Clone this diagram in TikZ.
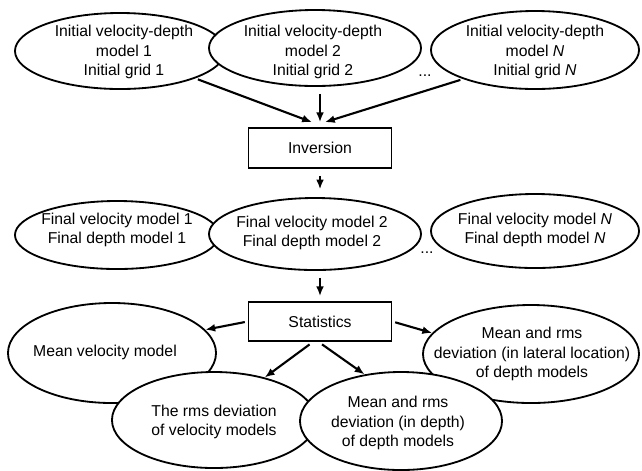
\documentclass[tikz,border=0pt]{standalone}
\usepackage{fontspec}
\setmainfont{Liberation Sans}
\usepackage{tikz}
\usetikzlibrary{shapes.geometric, arrows.meta, positioning, calc}

\begin{document}
\begin{tikzpicture}[x=0.025cm, y=-0.025cm,
    ell/.style={ellipse, draw, fill=white, line width=1.3pt, inner sep=0pt},
    txt/.style={align=center, inner sep=0pt, font=\fontsize{11.2}{13.8}\selectfont},
    proc/.style={rectangle, draw, fill=white, line width=1.3pt, minimum width=3.575cm, minimum height=1cm, font=\fontsize{11.2}{13.8}\selectfont},
    arr/.style={-{Latex[length=7pt, width=5.6pt]}, line width=1.5pt}]
    \useasboundingbox (0,0) rectangle (642,470);

    % Initial models
    \node[ell, minimum width=5.25cm, minimum height=1.9cm] (init1) at (120,51) {};
    \node[txt] (init1t) at (124,52) {Initial velocity-depth\\model 1\\Initial grid 1};
    \node[ell, minimum width=5.3cm, minimum height=1.9cm] (init2) at (315,48) {};
    \node[txt] (init2t) at (313,52) {Initial velocity-depth\\model 2\\Initial grid 2};
    \node[ell, minimum width=5.2cm, minimum height=1.95cm] (initN) at (535,50) {};
    \node[txt] (initNt) at (535,52) {Initial velocity-depth\\model \textit{N}\\Initial grid \textit{N}};
    \node[txt] (dotsA) at (425,76) {...};

    % Inversion
    \node[proc] (inv) at (320,148) {Inversion};

    % Final models
    \node[ell, minimum width=5.1cm, minimum height=1.7cm] (fin1) at (117,235) {};
    \node[txt] (fin1t) at (117,230) {Final velocity model 1\\Final depth model 1};
    \node[ell, minimum width=5.3cm, minimum height=1.8cm] (fin2) at (315,234) {};
    \node[txt] (fin2t) at (312,233) {Final velocity model 2\\Final depth model 2};
    \node[ell, minimum width=5.2cm, minimum height=1.85cm] (finN) at (535,231) {};
    \node[txt] (finNt) at (535,230) {Final velocity model \textit{N}\\Final depth model \textit{N}};
    \node[txt] (dotsB) at (427,253) {...};

    % Statistics
    \node[proc, minimum height=0.975cm] (stats) at (320,321.5) {Statistics};

    % Results
    \node[ell, minimum width=5.2cm, minimum height=2.5cm] (meanvel) at (112,353) {};
    \node[txt] (meanvelt) at (105,352) {Mean velocity model};
    \node[ell, minimum width=5.4cm, minimum height=2.45cm] (lateral) at (531,354) {};
    \node[txt] (lateralt) at (532,354) {Mean and rms\\deviation (in lateral location)\\of depth models};
    \node[ell, minimum width=5.1cm, minimum height=2.4cm] (rmsvel) at (214,420) {};
    \node[txt] (rmsvelt) at (214,422) {The rms deviation\\of velocity models};
    \node[ell, minimum width=5.05cm, minimum height=2.45cm] (depth) at (401,421) {};
    \node[txt] (deptht) at (398,423) {Mean and rms\\deviation (in depth)\\of depth models};

    % Arrows
    \draw[arr, shorten <=2pt] (init1.-20) -- ([xshift=-5.7pt, yshift=3.5pt]inv.north);
    \draw[arr, shorten <=5pt, shorten >=3.5pt] (inv.north |- init2.south) -- (inv.north);
    \draw[arr, shorten <=2pt] (initN.-158) -- ([xshift=3.5pt, yshift=3.5pt]inv.north);
    \draw[arr, shorten <=5pt, shorten >=5.5pt] (inv.south) -- (inv.south |- fin2.north);
    \draw[arr, shorten <=5pt, shorten >=3.5pt] (stats.north |- fin2.south) -- (stats.north);
    \draw[arr, shorten <=2pt] (stats.west) -- (meanvel.14);
    \draw[arr, shorten <=2pt] (stats.east) -- (lateral.168);
    \draw[arr, shorten <=3pt] ([xshift=-5pt]stats.south) -- (rmsvel.40);
    \draw[arr, shorten <=3pt] ([xshift=-1pt]stats.south) -- (depth.128);
\end{tikzpicture}
\end{document}
